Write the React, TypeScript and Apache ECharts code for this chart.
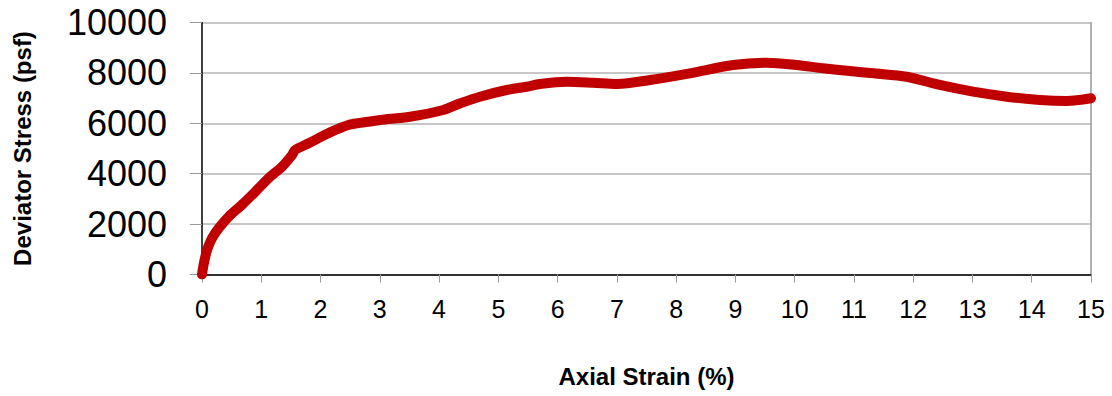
import React, { useEffect, useRef } from "react";
import * as echarts from "echarts";

const strain = [0, 0.02, 0.05, 0.09, 0.14, 0.2, 0.28, 0.45, 0.67, 0.9, 1.12, 1.35, 1.52, 1.57, 1.8, 2.13, 2.47, 2.81, 3.01, 3.51, 4.07, 4.36, 4.69, 5.14, 5.48, 5.7, 6.16, 6.6, 7.0, 7.56, 8.23, 8.96, 9.53, 10.03, 10.48, 10.93, 11.33, 11.89, 12.45, 13.01, 13.58, 14.14, 14.59, 15.0];
const stress = [0, 300, 650, 1000, 1300, 1560, 1833, 2294, 2758, 3286, 3817, 4278, 4742, 4940, 5206, 5603, 5933, 6064, 6131, 6262, 6528, 6794, 7056, 7321, 7452, 7560, 7651, 7611, 7560, 7718, 7984, 8313, 8405, 8313, 8183, 8075, 7984, 7849, 7520, 7254, 7056, 6925, 6885, 6992];

const xTitle = "Axial Strain (%)";
const yTitle = "Deviator Stress (psf)";

const FONT = "'Liberation Sans', Arial, sans-serif";

export default function App() {
  const ref = useRef<HTMLDivElement>(null);
  useEffect(() => {
    if (!ref.current) return;
    const chart = echarts.init(ref.current, undefined, { renderer: "svg" });
    const data = strain.map((s, i) => [s, stress[i]]);
    chart.setOption({
      animation: false,
      grid: { left: 202, right: 21, top: 22.5, bottom: 121.5 },
      xAxis: {
        type: "value",
        min: 0,
        max: 15,
        interval: 1,
        name: xTitle,
        nameLocation: "middle",
        nameGap: 90,
        nameTextStyle: { fontFamily: FONT, fontWeight: "bold", fontSize: 24, color: "#000" },
        axisLine: { lineStyle: { color: "#000", width: 1.5 } },
        axisTick: { show: true, length: 8, lineStyle: { color: "#999" } },
        axisLabel: { fontFamily: FONT, fontSize: 25, color: "#000", margin: 22 },
        splitLine: { show: false },
      },
      yAxis: [
        {
          type: "value",
          min: 0,
          max: 10000,
          interval: 2000,
          name: yTitle,
          nameLocation: "middle",
          nameGap: 168,
          nameTextStyle: { fontFamily: FONT, fontWeight: "bold", fontSize: 24, color: "#000" },
          axisLine: { show: true, lineStyle: { color: "#000", width: 1.5 } },
          axisTick: { show: true, length: 12, lineStyle: { color: "#999" } },
          axisLabel: { fontFamily: FONT, fontSize: 36, color: "#000", margin: 35, formatter: (v: number) => String(v) },
          splitLine: { show: true, lineStyle: { color: "#b4b4b4", width: 1.5 } },
        },
        {
          type: "value",
          min: 0,
          max: 10000,
          interval: 2000,
          position: "right",
          axisLine: { show: true, lineStyle: { color: "#999", width: 1.5 } },
          axisTick: { show: false },
          axisLabel: { show: false },
          splitLine: { show: false },
        },
      ],
      series: [
        {
          type: "line",
          data,
          smooth: 0.3,
          showSymbol: false,
          symbol: "none",
          lineStyle: { color: "#c00000", width: 10, cap: "round", join: "round" },
        },
      ],
    });
    return () => chart.dispose();
  }, []);
  return <div ref={ref} style={{ width: 1112, height: 396, position: "absolute", left: 0, top: 0 }} />;
}
